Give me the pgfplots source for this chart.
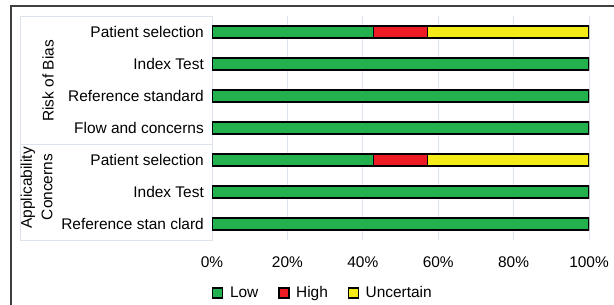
\documentclass[border=0pt]{standalone}
\usepackage{fontspec}
\setmainfont{Liberation Sans}
\usepackage{pgfplots}
\pgfplotsset{compat=1.18}
\usepackage{pgfplotstable}
\definecolor{cLow}{RGB}{34,177,76}
\definecolor{cHigh}{RGB}{237,28,36}
\definecolor{cUnc}{RGB}{244,234,22}
\definecolor{gridc}{RGB}{220,227,236}
\definecolor{boxc}{RGB}{221,227,234}
\pgfplotstableread{
row low high unc
0 42.857 14.286 42.857
1 100 0 0
2 100 0 0
3 100 0 0
4 42.857 14.286 42.857
5 100 0 0
6 100 0 0
}\data
\begin{document}
\begin{tikzpicture}[font=\fontsize{15.5}{18}\selectfont]
\path[use as bounding box] (0,0) rectangle (614bp,-305bp);
\draw[color=black!75, line width=1.1bp] (11bp,-305bp) -- (11bp,-6bp) -- (614bp,-6bp);
\draw[boxc, line width=0.8bp] (20bp,-16bp) rectangle (212bp,-240bp);
\draw[boxc, line width=0.8bp] (20bp,-144bp) -- (212bp,-144bp);
\node[rotate=90, anchor=center, inner sep=0pt] at (48bp,-81bp) {Risk of Bias};
\node[rotate=90, anchor=center, inner sep=0pt] at (28bp,-188bp) {Applicability};
\node[rotate=90, anchor=center, inner sep=0pt] at (47bp,-187bp) {Concerns};
\begin{axis}[
  at={(212bp,-240bp)}, anchor=south west,
  scale only axis, width=377bp, height=224bp,
  xbar stacked, bar width=12bp,
  y dir=reverse,
  xmin=0, xmax=100, ymin=-0.5, ymax=6.5,
  axis line style={draw=none},
  xmajorgrids, major grid style={gridc, line width=0.9bp},
  major tick length=0pt,
  xtick={0,20,40,60,80,100},
  xticklabels={0\%,20\%,40\%,60\%,80\%,100\%},
  ytick={0,1,2,3,4,5,6},
  yticklabels={Patient selection,Index Test,Reference standard,Flow and concerns,Patient selection,Index Test,Reference stan clard},
  yticklabel style={anchor=east, inner sep=0pt, xshift=-8bp},
  xticklabel style={anchor=north, inner sep=0pt, yshift=-17bp},
  ticklabel style={font=\fontsize{15.5}{18}\selectfont},
  /pgf/number format/assume math mode=true,
  legend columns=3,
  legend style={draw=none, fill=none, at={(0.2918,-0.2366)}, anchor=center,
    inner sep=0pt, nodes={inner sep=0pt, font=\fontsize{15.5}{18}\selectfont},
    /tikz/every even column/.append style={column sep=20bp}},
  every axis plot/.append style={draw=black, line width=1.3bp,
    legend image code/.code={\draw[##1, line width=1.2bp] (0bp,-5bp) rectangle (10bp,5bp); \path (16.5bp,0bp);}},
]
\addplot[fill=cLow] table[x=low, y=row] {\data};
\addplot[fill=cHigh] table[x=high, y=row] {\data};
\addplot[fill=cUnc] table[x=unc, y=row] {\data};
\legend{Low,High,Uncertain}
\end{axis}
\end{tikzpicture}
\end{document}
